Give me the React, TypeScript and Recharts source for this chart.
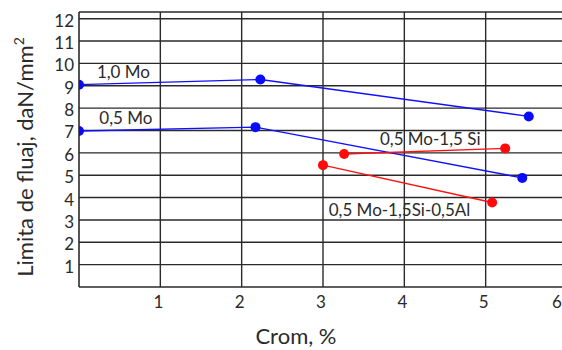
import React from "react";
import { LineChart, Line, XAxis, YAxis, ReferenceLine, ReferenceDot, Label } from "recharts";

const mo10 = [
  { x: 0, y: 9.05 },
  { x: 2.23, y: 9.28 },
  { x: 5.53, y: 7.63 },
];
const mo05 = [
  { x: 0, y: 6.98 },
  { x: 2.17, y: 7.15 },
  { x: 5.45, y: 4.88 },
];
const moSi = [
  { x: 3.26, y: 5.95 },
  { x: 5.24, y: 6.2 },
];
const moSiAl = [
  { x: 3.0, y: 5.45 },
  { x: 5.08, y: 3.78 },
];
const xTicks = [1, 2, 3, 4, 5, 6];
const yTicks = [1, 2, 3, 4, 5, 6, 7, 8, 9, 10, 11, 12];
const Y_MAX = 12.3;
const annotations = [
  { x: 0.22, y: 9.37, text: "1,0 Mo" },
  { x: 0.25, y: 7.31, text: "0,5 Mo" },
  { x: 3.7, y: 6.34, text: "0,5 Mo-1,5 Si" },
  { x: 3.07, y: 3.16, text: "0,5 Mo-1,5Si-0,5Al" },
];

const FONT = "Lato, 'DejaVu Sans', sans-serif";
const GRID = "#2a2a2a";
const TXT = "#2a2a2a";

const XTick = (props: any) => (
  <text
    x={Math.min(props.x - 2, 557)}
    y={props.y + 20.5}
    textAnchor="middle"
    fill={TXT}
    fontSize={17}
    fontFamily={FONT}
  >
    {props.payload.value}
  </text>
);

const YTick = (props: any) => (
  <text
    x={props.x - 5}
    y={props.y + 8}
    textAnchor="end"
    fill={TXT}
    fontSize={17}
    fontFamily={FONT}
  >
    {props.payload.value}
  </text>
);

export default function App() {
  return (
    <div style={{ position: "absolute", top: 0, left: 0, width: 562, height: 350, overflow: "hidden", background: "#fff" }}>
      <LineChart
        width={580}
        height={350}
        margin={{ top: 12, right: 13, bottom: 33, left: 39 }}
        style={{ fontFamily: FONT }}
      >
        <XAxis
          type="number"
          dataKey="x"
          domain={[0, 6]}
          ticks={xTicks}
          interval={0}
          allowDataOverflow
          height={30}
          tickLine={false}
          tickSize={0}
          tickMargin={0}
          axisLine={{ stroke: GRID, strokeWidth: 1.6 }}
          tick={XTick}
        >
          <Label
            content={(props: any) => {
              const vb = props.viewBox;
              return (
                <text
                  x={vb.x + 217}
                  y={344}
                  textAnchor="middle"
                  fill={TXT}
                  fontSize={22}
                  fontFamily={FONT}
                >
                  Crom, %
                </text>
              );
            }}
          />
        </XAxis>
        <YAxis
          type="number"
          dataKey="y"
          domain={[0, Y_MAX]}
          ticks={yTicks}
          interval={0}
          allowDataOverflow
          width={40}
          tickLine={false}
          tickSize={0}
          tickMargin={0}
          axisLine={{ stroke: GRID, strokeWidth: 1.6 }}
          tick={YTick}
        >
          <Label
            content={() => (
              <text
                x={32.5}
                y={157}
                transform="rotate(-90 32.5 157)"
                textAnchor="middle"
                fill={TXT}
                fontSize={22}
                fontFamily={FONT}
              >
                Limita de fluaj, daN/mm
                <tspan dy={-9} fontSize={14}>2</tspan>
              </text>
            )}
          />
        </YAxis>
        {yTicks.map((t) => (
          <ReferenceLine key={"gy" + t} y={t} stroke={GRID} strokeWidth={1.4} />
        ))}
        {xTicks.map((t) => (
          <ReferenceLine key={"gx" + t} x={t} stroke={GRID} strokeWidth={1.4} />
        ))}
        <ReferenceLine y={Y_MAX} stroke={GRID} strokeWidth={1.4} />
        <Line data={mo10} dataKey="y" stroke="#1010ff" strokeWidth={1.4} isAnimationActive={false}
          dot={{ r: 5, fill: "#0a0aff", stroke: "#0a0aff", strokeWidth: 0 }} />
        <Line data={mo05} dataKey="y" stroke="#1010ff" strokeWidth={1.4} isAnimationActive={false}
          dot={{ r: 5, fill: "#0a0aff", stroke: "#0a0aff", strokeWidth: 0 }} />
        <Line data={moSi} dataKey="y" stroke="#ff1010" strokeWidth={1.4} isAnimationActive={false}
          dot={{ r: 5, fill: "#ff0a0a", stroke: "#ff0a0a", strokeWidth: 0 }} />
        <Line data={moSiAl} dataKey="y" stroke="#ff1010" strokeWidth={1.4} isAnimationActive={false}
          dot={{ r: 5, fill: "#ff0a0a", stroke: "#ff0a0a", strokeWidth: 0 }} />
        {annotations.map((a) => (
          <ReferenceDot
            key={a.text}
            x={a.x}
            y={a.y}
            r={0}
            ifOverflow="visible"
            shape={(p: any) => (
              <text x={p.cx} y={p.cy} fill={TXT} fontSize={17} fontFamily={FONT} textAnchor="start">
                {a.text}
              </text>
            )}
          />
        ))}
      </LineChart>
    </div>
  );
}
